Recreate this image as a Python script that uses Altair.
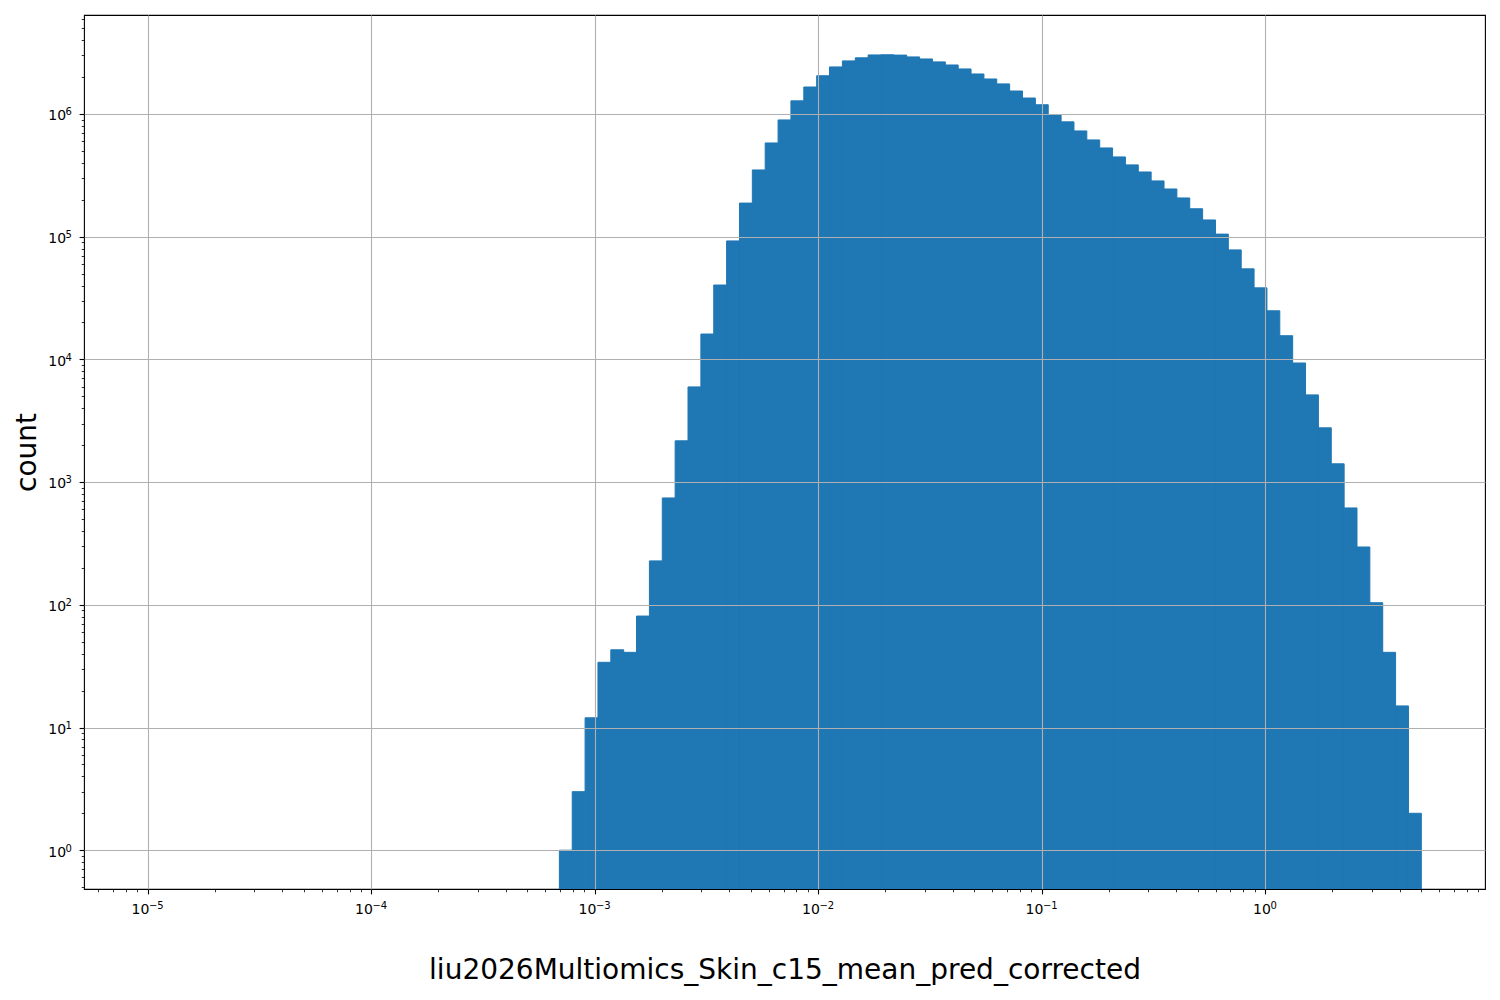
import altair as alt
import numpy as np
import pandas as pd

# Histogram binning: 99 log-spaced bins from 1e-5 to 5
N_BINS = 99
LOG_MIN = -5.0
LOG_MAX = float(np.log10(5.0))
FIRST_BIN = 32  # first non-empty bin index

counts = [
    1, 3, 12, 34, 43, 41, 81, 228, 743, 2170,
    5970, 16100, 40400, 92400, 188000, 350000, 581000, 895000, 1280000, 1660000,
    2050000, 2420000, 2710000, 2870000, 3030000, 3040000, 3020000, 2920000, 2810000, 2660000,
    2510000, 2330000, 2120000, 1930000, 1760000, 1540000, 1350000, 1190000, 984000, 863000,
    728000, 615000, 529000, 447000, 385000, 337000, 285000, 245000, 207000, 169000,
    137000, 105000, 78100, 54700, 38300, 24900, 15600, 9350, 5140, 2770,
    1410, 616, 296, 104, 41, 15, 2,
]

x_title = "liu2026Multiomics_Skin_c15_mean_pred_corrected"
y_title = "count"

x_exps = [-5, -4, -3, -2, -1, 0]
y_exps = [0, 1, 2, 3, 4, 5, 6]

edges = np.logspace(LOG_MIN, LOG_MAX, N_BINS + 1)
n = len(counts)
df = pd.DataFrame({
    "start": edges[FIRST_BIN:FIRST_BIN + n],
    "end": edges[FIRST_BIN + 1:FIRST_BIN + 1 + n],
    "count": counts,
})

def sup_text(e):
    return ("\u2212" if e < 0 else "") + str(abs(e))

x_lab = pd.DataFrame({"start": [10.0 ** e for e in x_exps], "exp": x_exps,
                      "sup": [sup_text(e) for e in x_exps]})
y_lab = pd.DataFrame({"count": [10.0 ** e for e in y_exps], "exp": y_exps,
                      "sup": [sup_text(e) for e in y_exps]})

span = LOG_MAX - LOG_MIN
x_dom = [10 ** (LOG_MIN - 0.05 * span), 10 ** (LOG_MAX + 0.05 * span)]
y_dom = [10 ** -0.316, 10 ** 6.807]

def tick_values(dom, lo_exp, hi_exp):
    vals = []
    for e in range(lo_exp, hi_exp + 1):
        for k in range(1, 10):
            v = k * 10.0 ** e
            if dom[0] <= v <= dom[1]:
                vals.append(v)
    return vals

x_ticks = tick_values(x_dom, -6, 0)
y_ticks = tick_values(y_dom, -1, 6)

W, H = 1401, 874
FONT = "DejaVu Sans"

major = "abs(log(datum.value)/LN10 - round(log(datum.value)/LN10)) < 0.001"

def make_axis(values, title, title_pad):
    return alt.Axis(
        values=values,
        title=title,
        labels=False,
        grid=True,
        gridOpacity={"condition": {"test": major, "value": 1}, "value": 0},
        tickSize={"condition": {"test": major, "value": 4.9}, "value": 2.8},
        tickWidth={"condition": {"test": major, "value": 1.1}, "value": 0.8},
        titlePadding=title_pad,
        zindex=1,
    )

xs = alt.Scale(type="log", domain=x_dom, nice=False)
ys = alt.Scale(type="log", domain=y_dom, nice=False, zero=False)

bars = alt.Chart(df).mark_rect(
    color="#1f77b4", stroke="#1f77b4", strokeWidth=1, clip=True
).encode(
    x=alt.X("start:Q", scale=xs, axis=make_axis(x_ticks, x_title, 62)),
    x2="end:Q",
    y=alt.Y("count:Q", scale=ys, axis=make_axis(y_ticks, y_title, 37)),
    y2=alt.value(H),
)

def xtext(filt, txt, dx, ypix, size, align):
    ch = alt.Chart(x_lab).transform_filter(filt).mark_text(
        align=align, baseline="alphabetic", dx=dx, font=FONT, fontSize=size, color="black"
    )
    return ch.encode(
        x=alt.X("start:Q", scale=xs),
        y=alt.value(ypix),
        text=txt,
    )

x_base_neg = xtext("datum.exp < 0", alt.value("10"), 1.7, H + 25, 14, "right")
x_sup_neg = xtext("datum.exp < 0", alt.Text("sup:N"), 1.3, H + 20, 10, "left")
x_base_pos = xtext("datum.exp >= 0", alt.value("10"), 5.8, H + 25, 14, "right")
x_sup_pos = xtext("datum.exp >= 0", alt.Text("sup:N"), 5.4, H + 20, 10, "left")

def ytext(txt, xpix, dy, size, align):
    return alt.Chart(y_lab).mark_text(
        align=align, baseline="alphabetic", dy=dy, font=FONT, fontSize=size, color="black"
    ).encode(
        y=alt.Y("count:Q", scale=ys),
        x=alt.value(xpix),
        text=txt,
    )

y_base = ytext(alt.value("10"), -17.8, 6.3, 14, "right")
y_sup = ytext(alt.Text("sup:N"), -18.6, 1.3, 10, "left")

chart = alt.layer(
    bars, x_base_neg, x_sup_neg, x_base_pos, x_sup_pos, y_base, y_sup
).properties(
    width=W, height=H,
    autosize="none",
    padding={"left": 76, "top": 7, "right": 7, "bottom": 105},
).configure_view(
    stroke="black", strokeWidth=1.1
).configure_axis(
    domain=False,
    tickColor="black",
    gridColor="#b0b0b0",
    gridWidth=1.1,
    titleFont=FONT,
    titleFontSize=28,
    titleFontWeight="normal",
    titleColor="black",
)

chart.save("out.html", embed_options={"renderer": "svg", "actions": False})
